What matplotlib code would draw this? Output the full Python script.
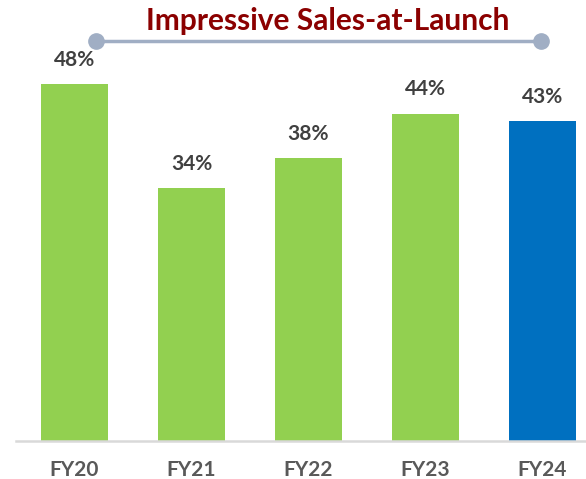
import matplotlib.pyplot as plt
from matplotlib.lines import Line2D

years = ["FY20", "FY21", "FY22", "FY23", "FY24"]
sales_at_launch = [48, 34, 38, 44, 43]
bar_colors = ["#92D050", "#92D050", "#92D050", "#92D050", "#0070C0"]

plt.rcParams["font.family"] = ["Lato", "DejaVu Sans"]

W, H = 586, 479
fig = plt.figure(figsize=(W / 100, H / 100), dpi=100)

# axes: x from 16px to right edge, y zero at 440.5px
ax = fig.add_axes([16 / W, (H - 440.5) / H, (W - 16) / W, 440.5 / H])
x = range(len(years))
bars = ax.bar(x, sales_at_launch, width=0.573, color=bar_colors)

ax.set_xlim(-0.5, -0.5 + (W - 16) / 117)
ax.set_ylim(0, 440.5 / 7.427)

for b, v in zip(bars, sales_at_launch):
    ax.annotate(f"{v}%", (b.get_x() + b.get_width() / 2, v),
                xytext=(0, 17.5), textcoords="offset points",
                ha="center", va="center", fontsize=15, fontweight="bold",
                color="#404040")

for s in ["top", "right", "left"]:
    ax.spines[s].set_visible(False)
ax.spines["bottom"].set_color("#D9D9D9")
ax.spines["bottom"].set_linewidth(1.8)
ax.set_yticks([])
ax.set_xticks(list(x))
ax.set_xticklabels(years, fontsize=15, fontweight="bold", color="#595959")
ax.tick_params(axis="x", length=0, pad=14)

# title with bracket line
fig.text(328 / W, 1 - 21 / H, "Impressive Sales-at-Launch", ha="center", va="center",
         fontsize=21.5, fontweight="bold", color="#8B0000")
ly = 1 - 41 / H
fig.add_artist(Line2D([96 / W, 541 / W], [ly, ly], color="#A0AEC4", lw=2.5,
                      marker="o", markersize=11, markevery=[0, 1],
                      transform=fig.transFigure))

fig.savefig("out.png", dpi=100)
